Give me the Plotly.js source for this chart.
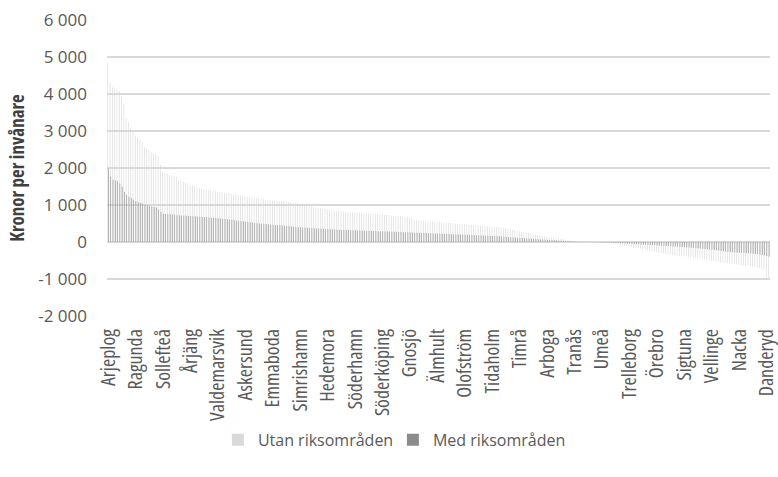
<!DOCTYPE html>
<html>
<head>
<meta charset="utf-8">
<script src="https://cdn.plot.ly/plotly-3.0.1.min.js"></script>
<style>
  html, body { margin: 0; padding: 0; background: #ffffff; }
  #chart { width: 778px; height: 477px; }
  .xtick text { font-stretch: 75% !important; }
  text.ytitle { font-stretch: 75% !important; }
</style>
</head>
<body>
<div id="chart"></div>
<script>
// Municipalities are sorted; only every 12th name is shown on the axis.
const tickLabels = ["Arjeplog","Ragunda","Sollefteå","Årjäng","Valdemarsvik","Askersund","Emmaboda","Simrishamn","Hedemora","Söderhamn","Söderköping","Gnosjö","Älmhult","Olofström","Tidaholm","Timrå","Arboga","Tranås","Umeå","Trelleborg","Örebro","Sigtuna","Vellinge","Nacka","Danderyd"];
const labelStep = 12;

// Kronor per invånare, utan riksområden (light series)
const utan = [
4850,4320,4180,4150,4110,4080,3930,3740,3340,3250,3070,2980,2880,2820,2750,2700,2570,2520,2480,2420,
2390,2370,2320,2080,1900,1860,1840,1810,1790,1780,1760,1670,1650,1620,1600,1580,1550,1530,1500,1480,
1460,1440,1420,1410,1400,1395,1385,1370,1360,1350,1340,1330,1320,1310,1300,1290,1280,1270,1260,1245,
1235,1225,1215,1205,1195,1190,1180,1170,1160,1150,1140,1135,1125,1120,1115,1110,1100,1095,1085,1080,
1070,1060,1050,1040,1025,1010,1000,990,975,960,945,930,920,905,895,885,875,865,855,845,
838,830,822,815,810,805,800,798,795,793,790,786,780,774,768,762,757,752,748,743,
738,733,728,722,716,710,705,700,695,690,685,680,672,640,600,590,582,575,568,562,
556,551,546,541,536,531,526,521,516,511,506,501,496,492,488,484,478,472,468,462,
456,450,444,438,432,426,420,415,410,405,400,395,390,378,366,352,340,325,312,298,
285,272,262,250,240,228,215,205,193,182,170,158,146,135,123,112,100,90,80,72,
64,56,48,40,34,28,22,17,12,8,5,2,-1,-4,-8,-12,-17,-22,-28,-35,
-42,-50,-58,-66,-75,-85,-96,-108,-120,-133,-146,-160,-172,-184,-196,-208,-220,-232,-244,-256,
-268,-280,-292,-304,-316,-330,-338,-346,-354,-362,-370,-378,-386,-394,-403,-412,-421,-430,-440,-450,
-460,-472,-484,-495,-506,-516,-526,-536,-546,-556,-565,-574,-582,-590,-600,-610,-618,-626,-634,-642,
-650,-658,-666,-676,-688,-705,-725,-745,-955,-980
];

// Kronor per invånare, med riksområden (dark series)
const med = [
1980,1760,1680,1670,1640,1580,1490,1350,1280,1220,1190,1140,1110,1080,1060,1040,1010,990,970,960,
945,930,880,810,765,755,750,748,745,740,725,720,715,712,708,705,700,697,693,690,
685,680,676,670,664,658,652,646,640,633,626,619,612,605,598,590,582,574,566,558,
550,543,535,527,519,510,502,496,490,484,478,472,466,460,455,450,444,438,430,424,
417,410,405,400,396,392,388,384,380,376,372,368,364,360,356,352,348,344,340,336,
333,330,328,326,324,322,320,318,315,313,311,309,306,304,301,299,297,295,292,290,
288,286,284,282,279,277,274,271,269,266,263,261,258,255,252,250,247,245,242,240,
237,235,232,230,228,225,222,220,217,215,212,210,207,205,202,200,197,195,193,190,
187,184,181,178,175,172,169,166,163,160,157,154,150,145,140,135,130,125,120,115,
110,105,100,96,92,88,84,80,76,72,68,64,60,56,52,48,44,40,35,31,
27,23,19,15,12,9,6,4,2,1,0,-1,-2,-3,-5,-7,-9,-11,-14,-17,
-20,-23,-26,-29,-32,-36,-40,-44,-48,-52,-56,-60,-64,-67,-71,-74,-78,-81,-85,-88,
-92,-95,-99,-102,-106,-110,-115,-119,-124,-128,-133,-137,-142,-146,-151,-156,-161,-166,-171,-175,
-180,-188,-195,-203,-210,-218,-226,-234,-241,-249,-256,-264,-271,-278,-285,-289,-293,-297,-300,-304,
-307,-310,-318,-326,-334,-342,-352,-362,-380,-400
];

const positions = utan.map((_, i) => i);
const tickPositions = tickLabels.map((_, i) => i * labelStep);

const FONT = '"Open Sans", Roboto, "DejaVu Sans", sans-serif';

const traces = [
  { type: 'bar', name: 'Utan riksområden', x: positions, y: utan,
    marker: { color: '#d9d9d9', line: { width: 0 } }, hoverinfo: 'y' },
  { type: 'bar', name: 'Med riksområden', x: positions, y: med,
    marker: { color: '#8c8c8c', line: { width: 0 } }, hoverinfo: 'y' }
];

const layout = {
  width: 778, height: 477,
  paper_bgcolor: '#ffffff', plot_bgcolor: '#ffffff',
  margin: { l: 107, r: 8, t: 20, b: 161 },
  barmode: 'group', bargap: 0.45, bargroupgap: 0,
  font: { family: FONT, color: '#595959', size: 17 },
  xaxis: {
    type: 'linear', range: [-0.5, utan.length - 0.5],
    tickmode: 'array', tickvals: tickPositions, ticktext: tickLabels,
    tickangle: -90, tickfont: { size: 20, color: '#595959' },
    ticklabeloverflow: 'allow', ticklabelstandoff: 8,
    showgrid: false, zeroline: false, showline: false, ticks: '',
    fixedrange: true
  },
  yaxis: {
    range: [-2000, 6000], tickvals: [-2000,-1000,0,1000,2000,3000,4000,5000,6000],
    ticktext: ['-2 000','-1 000','0','1 000','2 000','3 000','4 000','5 000','6 000'],
    showgrid: true, gridcolor: '#d9d9d9', gridwidth: 1.6,
    zeroline: true, zerolinecolor: '#d9d9d9', zerolinewidth: 1.6,
    showline: false, ticks: '', ticklabelstandoff: 19,
    tickfont: { size: 17, color: '#595959' },
    title: { text: '<b>Kronor per invånare</b>', font: { size: 19, color: '#404040' }, standoff: 8 },
    fixedrange: true
  },
  showlegend: true,
  legend: {
    orientation: 'h', xref: 'container', yref: 'container',
    x: 0.505, xanchor: 'center', y: 0.078, yanchor: 'middle',
    bgcolor: 'rgba(0,0,0,0)',
    font: { size: 16, color: '#595959' }, traceorder: 'normal',
    itemwidth: 30, entrywidth: 130, entrywidthmode: 'pixels'
  }
};

Plotly.newPlot('chart', traces, layout, { displayModeBar: false, staticPlot: true });
</script>
</body>
</html>
